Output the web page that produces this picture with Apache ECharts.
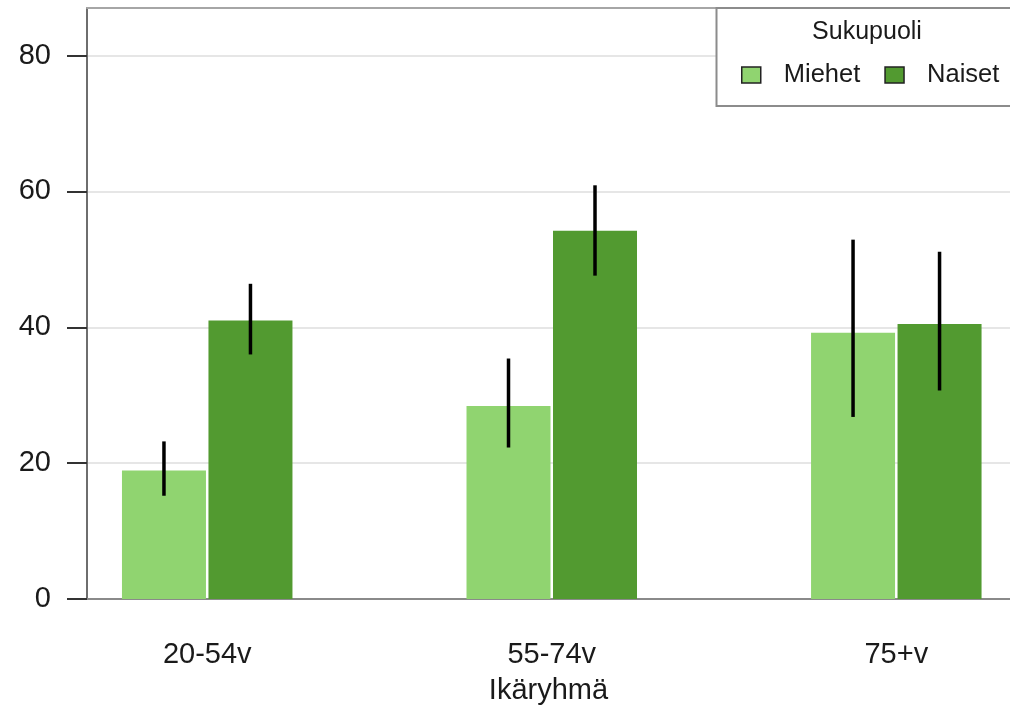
<!DOCTYPE html>
<html>
<head>
<meta charset="utf-8">
<script src="https://cdn.jsdelivr.net/npm/echarts@6/dist/echarts.min.js"></script>
<style>
html,body{margin:0;padding:0;background:#fff;}
#chart{width:1010px;height:710px;}
</style>
</head>
<body>
<div id="chart"></div>
<script>
const categories = ['20-54v', '55-74v', '75+v'];
const seriesNames = ['Miehet', 'Naiset'];
const miehet = [18.9, 28.4, 39.2];
const naiset = [41.0, 54.2, 40.5];
const miehetLow = [15.2, 22.3, 26.8];
const miehetHigh = [23.2, 35.4, 52.9];
const naisetLow = [36.0, 47.6, 30.7];
const naisetHigh = [46.4, 60.9, 51.1];
const yTicks = [0, 20, 40, 60, 80];
const legendTitle = 'Sukupuoli';
const xTitle = 'Ikäryhmä';

const positions = categories.map((c, i) => i + 1);
const FONT = '"Liberation Sans", Arial, sans-serif';
const BAR_W = 84;
const BAR_GAP_PX = 2.5;
const HALF = (BAR_W + BAR_GAP_PX) / 2;
const X_MIN = 0.6511, X_MAX = 3.3300;

function errSeries(name, low, high, offset) {
  return {
    type: 'custom',
    name: name,
    z: 5,
    data: positions.map((p, i) => [p, low[i], high[i]]),
    renderItem: function (params, api) {
      const a = api.coord([api.value(0), api.value(1)]);
      const b = api.coord([api.value(0), api.value(2)]);
      return {
        type: 'line',
        shape: { x1: a[0] + offset, y1: a[1], x2: b[0] + offset, y2: b[1] },
        style: { stroke: '#000', lineWidth: 3.5 }
      };
    }
  };
}

const chart = echarts.init(document.getElementById('chart'), null, { renderer: 'canvas' });
chart.setOption({
  animation: false,
  textStyle: { fontFamily: FONT },
  grid: { left: 87, right: 0, top: 8, bottom: 109, show: false },
  xAxis: [
    {
      type: 'value',
      min: X_MIN,
      max: X_MAX,
      name: xTitle,
      nameLocation: 'middle',
      nameGap: 77,
      nameTextStyle: { fontSize: 29, color: '#1a1a1a', fontFamily: FONT },
      axisLine: { show: true, lineStyle: { color: '#8a8a8a', width: 2 } },
      axisTick: { show: false },
      splitLine: { show: false },
      axisLabel: {
        customValues: positions,
        margin: 41,
        fontSize: 29,
        color: '#1a1a1a',
        fontFamily: FONT,
        formatter: function (v) { return categories[Math.round(v) - 1] || ''; }
      }
    },
    {
      type: 'value',
      position: 'top',
      min: X_MIN,
      max: X_MAX,
      axisLine: { show: true, onZero: false, lineStyle: { color: '#a6a6a6', width: 2 } },
      axisTick: { show: false },
      axisLabel: { show: false },
      splitLine: { show: false }
    }
  ],
  yAxis: {
    type: 'value',
    min: 0,
    max: 87,
    interval: 20,
    axisLine: { show: true, lineStyle: { color: '#6e6e6e', width: 2 } },
    axisTick: { show: true, length: 20, customValues: yTicks, lineStyle: { color: '#333', width: 2 } },
    axisLabel: { customValues: yTicks, margin: 36, fontSize: 29, color: '#1a1a1a', fontFamily: FONT },
    splitLine: { show: true, lineStyle: { color: '#dedede', width: 1.5 } }
  },
  legend: {
    data: seriesNames,
    left: 741,
    top: 62,
    padding: 0,
    itemWidth: 19,
    itemHeight: 16,
    itemGap: 24,
    icon: 'rect',
    z: 10,
    itemStyle: { borderColor: '#222', borderWidth: 1.5 },
    textStyle: { fontSize: 25.5, color: '#1a1a1a', fontFamily: FONT, padding: [0, 0, 0, 18] }
  },
  graphic: [
    {
      type: 'rect', z: 8,
      shape: { x: 716.5, y: 8, width: 330, height: 98 },
      style: { fill: '#fff', stroke: '#8c8c8c', lineWidth: 2 }
    },
    {
      type: 'text', z: 12,
      x: 867, y: 32,
      style: { text: legendTitle, fontSize: 25, fill: '#1a1a1a', fontFamily: FONT, align: 'center', verticalAlign: 'middle' }
    }
  ],
  series: [
    {
      type: 'bar', name: seriesNames[0],
      barWidth: BAR_W, barGap: (BAR_GAP_PX / BAR_W * 100) + '%',
      itemStyle: { color: '#90d470' },
      data: positions.map((p, i) => [p, miehet[i]])
    },
    {
      type: 'bar', name: seriesNames[1],
      barWidth: BAR_W, barGap: (BAR_GAP_PX / BAR_W * 100) + '%',
      itemStyle: { color: '#529a30' },
      data: positions.map((p, i) => [p, naiset[i]])
    },
    errSeries('err-m', miehetLow, miehetHigh, -HALF),
    errSeries('err-n', naisetLow, naisetHigh, HALF)
  ]
});
</script>
</body>
</html>
